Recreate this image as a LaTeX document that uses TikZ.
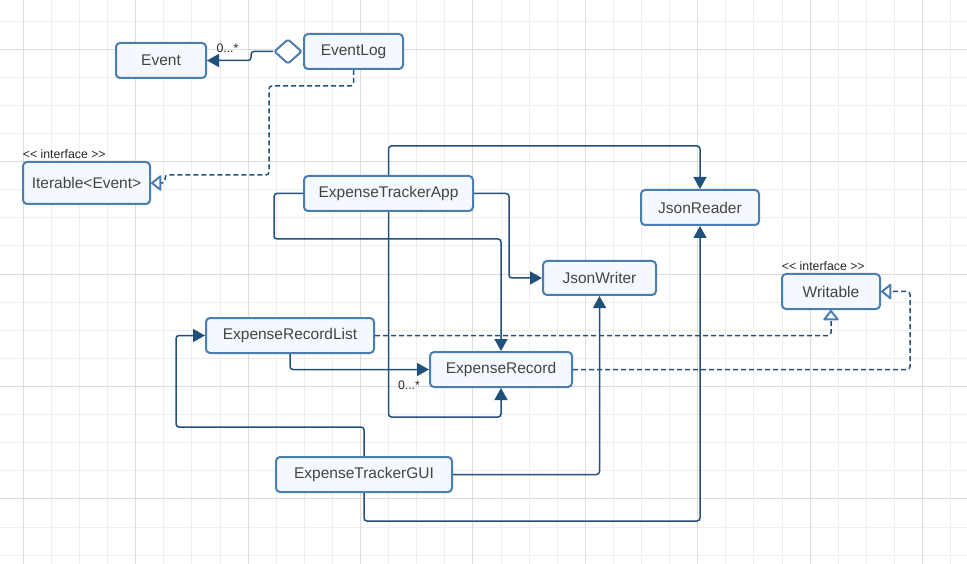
\documentclass[tikz,border=0pt]{standalone}
\usepackage{fontspec}
\setmainfont{Liberation Sans}
\usetikzlibrary{arrows.meta,shapes.geometric,calc}
\definecolor{boxborder}{HTML}{4A7DB0}
\definecolor{boxfill}{HTML}{F4F9FF}
\definecolor{conncol}{HTML}{22507C}
\definecolor{txtcol}{HTML}{444444}
\definecolor{gridminor}{HTML}{EEEEEE}
\definecolor{gridmajor}{HTML}{DDDDDD}
\tikzset{
  classbox/.style={draw=boxborder, fill=boxfill, line width=2pt, rounded corners=4pt,
    text=txtcol, font=\fontsize{15.5}{18}\selectfont, inner sep=0pt, align=center},
  conn/.style={draw=conncol, line width=1.5pt, rounded corners=3pt,
    -{Triangle[length=12pt,width=13pt]}},
  real/.style={draw=conncol, line width=1.5pt, rounded corners=3pt, dash pattern=on 5pt off 3pt,
    -{Triangle[line width=2pt,length=11pt,width=17pt,fill=white,color=boxborder,round]}},
  lbl/.style={text=black!85, font=\fontsize{12.3}{14}\selectfont, inner sep=0pt},
}
\begin{document}
\begin{tikzpicture}[x=1pt,y=-1pt]
\useasboundingbox (0,0) rectangle (967,564);
\fill[white] (0,0) rectangle (967,564);
\begin{scope}
\clip (0,0) rectangle (967,564);
\foreach \i in {-1,...,34} {\draw[gridminor, line width=1pt] ({23.3+28.1*\i},0) -- ({23.3+28.1*\i},564);}
\foreach \i in {-2,...,18} {\draw[gridminor, line width=1pt] (0,{49.3+28.1*\i}) -- (967,{49.3+28.1*\i});}
\foreach \i in {0,...,8} {\draw[gridmajor, line width=1pt] ({23.3+112.4*\i},0) -- ({23.3+112.4*\i},564);}
\foreach \i in {0,...,4} {\draw[gridmajor, line width=1pt] (0,{49.3+112.4*\i}) -- (967,{49.3+112.4*\i});}
\end{scope}

% classes
\node[classbox, minimum width=90pt, minimum height=35pt] (ev) at (161,60.5) {Event};
\node[classbox, minimum width=99pt, minimum height=35pt] (el) at (353.5,51.5) {EventLog};
\node[classbox, minimum width=127pt, minimum height=42pt] (it) at (86.5,183) {Iterable<Event>};
\node[classbox, minimum width=169pt, minimum height=35pt] (eta) at (388.5,193.5) {ExpenseTrackerApp};
\node[classbox, minimum width=118pt, minimum height=35pt] (jr) at (700,207.5) {JsonReader};
\node[classbox, minimum width=113pt, minimum height=34pt] (jw) at (599.5,278) {JsonWriter};
\node[classbox, minimum width=168pt, minimum height=35pt] (erl) at (290,335.5) {ExpenseRecordList};
\node[classbox, minimum width=142pt, minimum height=35pt] (er) at (501,369.5) {ExpenseRecord};
\node[classbox, minimum width=98pt, minimum height=35pt] (wr) at (831,291.5) {Writable};
\node[classbox, minimum width=176pt, minimum height=35pt] (gui) at (364,474.5) {ExpenseTrackerGUI};

% stereotypes
\node[lbl, anchor=west] (itst) at (22.7,154) {{<}{<} interface {>}{>}};
\node[lbl, anchor=west] (wrst) at (781.7,266) {{<}{<} interface {>}{>}};

% aggregation diamond
\node[draw=boxborder, fill=white, line width=2pt, diamond, minimum width=28pt, minimum height=25pt,
  inner sep=0pt, anchor=east, rounded corners=2pt] (dia) at (el.west) {};
\draw[conn] (dia.west) -- ++(-22,0) |- (ev.east);
\node[lbl] (m1) at (227.5,48) {0...*};

% EventLog realizes Iterable
\draw[real] (el.south) -- ++(0,16) -| (269,175) -| (165,183) -- (it.east);

% ExpenseTrackerApp associations
\draw[conn] (eta.north) -- ++(0,-29) -| (jr.north);
\draw[conn] (eta.west) -- ++(-29,0) -- ++(0,45.5) -| (er.north);
\draw[conn] (eta.east) -- ++(35,0) |- (jw.west);
\draw[conn] (eta.south) -- ++(0,205) -| (er.south);

% ExpenseRecordList
\draw[conn] (erl.south) |- (er.west);
\node[lbl] (m2) at (409,385.5) {0...*};
\draw[real] (erl.east) -| (wr.south);
\draw[real] (er.east) -- ++(337,0) |- (wr.east);

% GUI
\draw[conn] (gui.north) -- ++(0,-29) -| ($(erl.west)+(-29,0)$) -- (erl.west);
\draw[conn] (gui.east) -| (jw.south);
\draw[conn] (gui.south) -- ++(0,28) -| (jr.south);
\end{tikzpicture}
\end{document}
